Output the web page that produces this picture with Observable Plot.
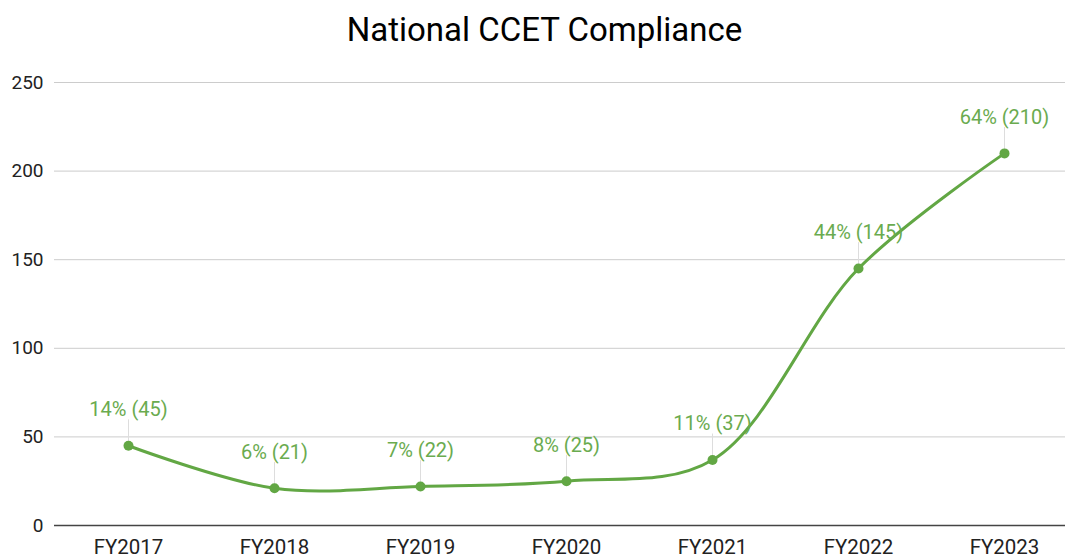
<!DOCTYPE html>
<html>
<head>
<meta charset="utf-8">
<script src="https://cdn.jsdelivr.net/npm/d3@7"></script>
<script src="https://cdn.jsdelivr.net/npm/@observablehq/plot@0.6"></script>
<style>
  html, body { margin: 0; padding: 0; background: #fff; }
  #title { width: 1041px; padding-left: 24px; height: 60px; line-height: 60px; text-align: center;
           font-family: Roboto, sans-serif; font-size: 33px; color: #000; }
</style>
</head>
<body>
<div id="title">National CCET Compliance</div>
<div id="chart"></div>
<script>
const years = ["FY2017", "FY2018", "FY2019", "FY2020", "FY2021", "FY2022", "FY2023"];
const counts = [45, 21, 22, 25, 37, 145, 210];
const percents = [14, 6, 7, 8, 11, 44, 64];
const yTicks = [0, 50, 100, 150, 200, 250];

const data = years.map((y, i) => ({year: y, value: counts[i], pct: percents[i]}));
const green = "#62a744";
const labelGreen = "#6aab4f";

const leader = {
  draw(context, l) { context.moveTo(0, 0); context.lineTo(0, -l); }
};

const chart = Plot.plot({
  width: 1065,
  height: 498,
  marginTop: 22,
  marginBottom: 33,
  marginLeft: 54,
  marginRight: 0,
  style: {fontFamily: "Roboto, sans-serif", fontSize: "19px", background: "#fff"},
  x: {type: "point", domain: years, padding: 0, insetLeft: 73, insetRight: 60, label: null},
  y: {domain: [0, 250], ticks: yTicks, label: null},
  marks: [
    Plot.ruleY(yTicks.filter(d => d > 0), {stroke: "#cccccc", strokeWidth: 1}),
    Plot.ruleY([0], {stroke: "#444", strokeWidth: 1.5}),
    Plot.axisY({ticks: yTicks, tickSize: 0, tickPadding: 11, fill: "#222", fontSize: 19, label: null}),
    Plot.axisX({tickSize: 0, tickPadding: 14, fill: "#222", fontSize: 20.5, label: null}),
    Plot.vector(data, {x: "year", y: "value", length: 26, rotate: 0, anchor: "start",
      shape: leader, stroke: "#dddddd", strokeWidth: 1}),
    Plot.line(data, {x: "year", y: "value", curve: "catmull-rom", stroke: green, strokeWidth: 3}),
    Plot.dot(data, {x: "year", y: "value", r: 5, fill: green}),
    Plot.text(data, {x: "year", y: "value", text: d => `${d.pct}% (${d.value})`,
      dy: -36, fill: labelGreen, fontSize: 20})
  ]
});
document.getElementById("chart").appendChild(chart);
</script>
</body>
</html>
